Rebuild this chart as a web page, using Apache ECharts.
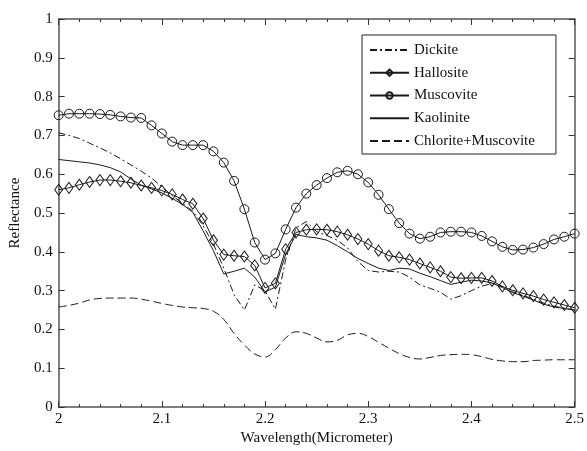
<!DOCTYPE html>
<html>
<head>
<meta charset="utf-8">
<script src="https://cdn.jsdelivr.net/npm/echarts@6/dist/echarts.min.js"></script>
<style>html,body{margin:0;padding:0;background:#fff;}#chart{width:587px;height:451px;}</style>
</head>
<body>
<div id="chart"></div>
<script>
const wavelength = [2.00,2.01,2.02,2.03,2.04,2.05,2.06,2.07,2.08,2.09,2.10,2.11,2.12,2.13,2.14,2.15,2.16,2.17,2.18,2.19,2.20,2.21,2.22,2.23,2.24,2.25,2.26,2.27,2.28,2.29,2.30,2.31,2.32,2.33,2.34,2.35,2.36,2.37,2.38,2.39,2.40,2.41,2.42,2.43,2.44,2.45,2.46,2.47,2.48,2.49,2.50];
const dickite = [0.707,0.700,0.692,0.680,0.668,0.655,0.640,0.624,0.608,0.590,0.568,0.545,0.525,0.505,0.467,0.420,0.358,0.290,0.250,0.315,0.300,0.252,0.380,0.462,0.478,0.452,0.442,0.430,0.410,0.375,0.352,0.348,0.350,0.348,0.335,0.315,0.306,0.296,0.278,0.287,0.300,0.312,0.318,0.310,0.297,0.288,0.278,0.268,0.260,0.255,0.250];
const hallosite = [0.560,0.565,0.573,0.580,0.585,0.585,0.582,0.578,0.571,0.565,0.558,0.548,0.535,0.524,0.486,0.430,0.393,0.390,0.388,0.365,0.307,0.319,0.407,0.450,0.457,0.458,0.457,0.452,0.444,0.433,0.420,0.403,0.390,0.386,0.380,0.370,0.360,0.350,0.335,0.332,0.333,0.333,0.325,0.311,0.301,0.293,0.286,0.277,0.270,0.263,0.256];
const muscovite = [0.752,0.756,0.756,0.756,0.755,0.753,0.749,0.746,0.745,0.726,0.705,0.684,0.675,0.675,0.675,0.659,0.630,0.583,0.510,0.424,0.380,0.396,0.458,0.514,0.550,0.572,0.590,0.605,0.609,0.600,0.579,0.547,0.510,0.474,0.447,0.434,0.439,0.450,0.452,0.452,0.450,0.441,0.427,0.413,0.405,0.406,0.411,0.420,0.432,0.439,0.447];
const kaolinite = [0.638,0.635,0.632,0.629,0.624,0.617,0.606,0.588,0.572,0.562,0.552,0.538,0.522,0.502,0.454,0.403,0.343,0.350,0.358,0.335,0.297,0.309,0.394,0.445,0.439,0.436,0.430,0.416,0.400,0.383,0.370,0.358,0.352,0.358,0.356,0.345,0.336,0.326,0.316,0.322,0.327,0.325,0.320,0.308,0.295,0.286,0.276,0.265,0.258,0.254,0.250];
const chloriteMuscovite = [0.258,0.262,0.268,0.276,0.280,0.281,0.281,0.281,0.278,0.273,0.267,0.262,0.258,0.256,0.254,0.247,0.226,0.190,0.160,0.137,0.129,0.148,0.178,0.194,0.190,0.178,0.168,0.172,0.186,0.190,0.182,0.167,0.152,0.138,0.128,0.124,0.128,0.133,0.135,0.136,0.135,0.130,0.123,0.119,0.117,0.117,0.120,0.121,0.122,0.122,0.122];
const seriesNames = ['Dickite','Hallosite','Muscovite','Kaolinite','Chlorite+Muscovite'];

const pairs = vals => wavelength.map((w, i) => [w, vals[i]]);
const ink = '#1a1a1a';
const clear = 'rgba(255,255,255,0)';
const font = 'Liberation Serif, Times New Roman, serif';

const chart = echarts.init(document.getElementById('chart'), null, {renderer: 'canvas'});
const axisCommon = {
  type: 'value',
  axisLine: {show: true, onZero: false, lineStyle: {color: '#555', width: 1.5}},
  axisTick: {show: true, inside: true, length: 6, lineStyle: {color: '#333'}},
  splitLine: {show: false}
};
chart.setOption({
  animation: false,
  backgroundColor: '#fff',
  grid: {left: 53, right: 10, top: 19, bottom: 40},
  legend: {
    orient: 'vertical',
    left: 362, top: 35,
    padding: [7.5, 21, 5.5, 7],
    itemWidth: 39, itemHeight: 8, itemGap: 7.75,
    backgroundColor: '#fff',
    borderColor: '#222', borderWidth: 1,
    textStyle: {fontFamily: font, fontSize: 15, color: '#111', lineHeight: 15},
    data: seriesNames
  },
  xAxis: [
    Object.assign({}, axisCommon, {
      position: 'bottom', min: 2, max: 2.5, interval: 0.1,
      minorTick: {show: true, splitNumber: 5, length: 3, lineStyle: {color: '#333'}},
      axisLabel: {fontFamily: font, fontSize: 15, color: '#111', margin: 4},
      name: 'Wavelength(Micrometer)', nameLocation: 'middle', nameGap: 18,
      nameTextStyle: {fontFamily: font, fontSize: 15, color: '#111'}
    }),
    Object.assign({}, axisCommon, {
      position: 'top', min: 2, max: 2.5, interval: 0.1,
      minorTick: {show: true, splitNumber: 5, length: 3, lineStyle: {color: '#333'}},
      axisLabel: {show: false}
    })
  ],
  yAxis: [
    Object.assign({}, axisCommon, {
      position: 'left', min: 0, max: 1, interval: 0.1,
      axisLabel: {fontFamily: font, fontSize: 15, color: '#111', margin: 6},
      name: 'Reflectance', nameLocation: 'middle', nameGap: 26,
      nameTextStyle: {fontFamily: font, fontSize: 15, color: '#111'}
    }),
    Object.assign({}, axisCommon, {
      position: 'right', min: 0, max: 1, interval: 0.1,
      axisLabel: {show: false}
    })
  ],
  series: [
    {name: 'Dickite', type: 'line', data: pairs(dickite), symbol: 'none',
     lineStyle: {color: ink, width: 1, type: [7, 3, 2, 3]}, itemStyle: {color: clear, borderWidth: 0}},
    {name: 'Hallosite', type: 'line', data: pairs(hallosite), symbol: 'diamond', symbolSize: [8, 11],
     lineStyle: {color: ink, width: 1},
     itemStyle: {color: clear, borderColor: ink, borderWidth: 1}},
    {name: 'Muscovite', type: 'line', data: pairs(muscovite), symbol: 'circle', symbolSize: 9,
     lineStyle: {color: ink, width: 1},
     itemStyle: {color: clear, borderColor: ink, borderWidth: 1}},
    {name: 'Kaolinite', type: 'line', data: pairs(kaolinite), symbol: 'none',
     lineStyle: {color: ink, width: 1}, itemStyle: {color: clear, borderWidth: 0}},
    {name: 'Chlorite+Muscovite', type: 'line', data: pairs(chloriteMuscovite), symbol: 'none', smooth: 0.4,
     lineStyle: {color: ink, width: 1, type: [8, 4]}, itemStyle: {color: clear, borderWidth: 0}}
  ]
});
</script>
</body>
</html>
